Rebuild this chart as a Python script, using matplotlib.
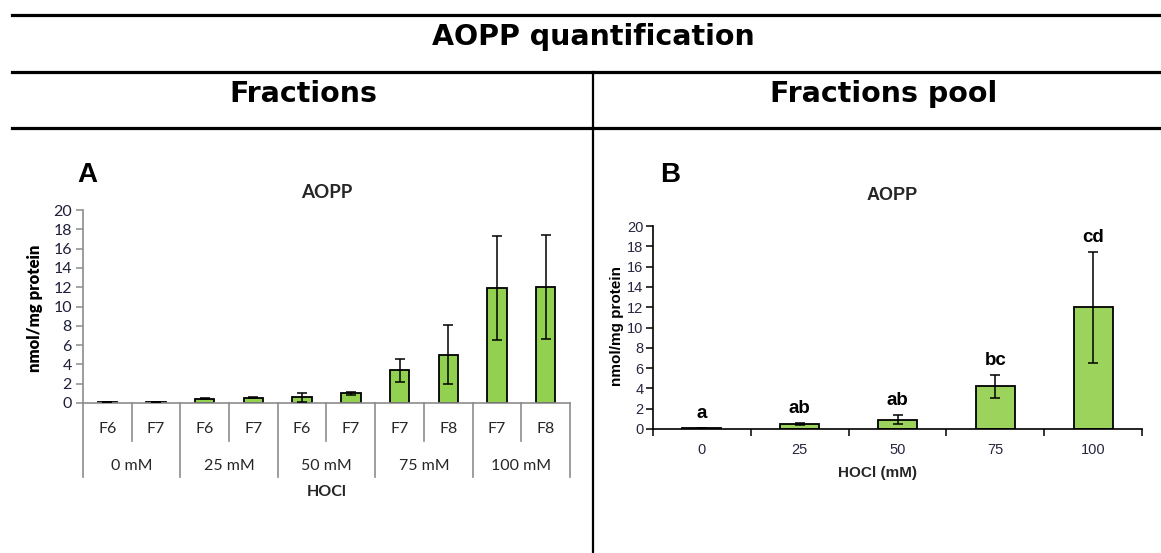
import matplotlib
matplotlib.use("Agg")
import matplotlib.pyplot as plt
from matplotlib.lines import Line2D
import numpy as np

# ---------------- data ----------------
A_groups = ['0 mM', '25 mM', '50 mM', '75 mM', '100 mM']
A_fractions = ['F6', 'F7', 'F6', 'F7', 'F6', 'F7', 'F7', 'F8', 'F7', 'F8']
A_values = [0.1, 0.1, 0.42, 0.55, 0.6, 1.0, 3.4, 5.0, 11.9, 12.0]
A_errors = [0.02, 0.02, 0.05, 0.07, 0.45, 0.12, 1.2, 3.05, 5.4, 5.4]

B_doses = ['0', '25', '50', '75', '100']
B_values = [0.1, 0.52, 0.92, 4.2, 12.0]
B_errors = [0.03, 0.1, 0.42, 1.12, 5.45]
B_letters = ['a', 'ab', 'ab', 'bc', 'cd']

y_ticks = [0, 2, 4, 6, 8, 10, 12, 14, 16, 18, 20]

W, H = 1161, 553
fig = plt.figure(figsize=(W / 100, H / 100), dpi=100)

def fx(px):
    return px / W

def fy(py):
    return 1 - py / H

# ---------------- header table ----------------
for y in (15, 72, 128):
    fig.add_artist(Line2D([fx(12), 1.0], [fy(y), fy(y)], color='black', lw=2.3,
                          transform=fig.transFigure))
fig.add_artist(Line2D([fx(593), fx(593)], [fy(72), 0.0], color='black', lw=1.6,
                      transform=fig.transFigure))

hdr_font = dict(family='DejaVu Sans', weight='bold', fontsize=20.5, color='black')
fig.text(fx(593), fy(45), 'AOPP quantification', ha='center', va='baseline', **hdr_font)
fig.text(fx(303), fy(102), 'Fractions', ha='center', va='baseline', **hdr_font)
fig.text(fx(884), fy(102), 'Fractions pool', ha='center', va='baseline', **hdr_font)

fig.text(fx(87), fy(175), 'A', ha='center', va='center', family='Liberation Sans',
         weight='bold', fontsize=20)
fig.text(fx(670), fy(175), 'B', ha='center', va='center', family='Liberation Sans',
         weight='bold', fontsize=20)

green = '#92D050'
gray = '#8C8C8C'

# ---------------- panel A ----------------
axA = fig.add_axes([fx(83), fy(403), fx(570 - 83), (403 - 210) / H])
xa = np.arange(len(A_values))
axA.bar(xa, A_values, width=0.4, color=green, edgecolor='black', linewidth=1.3, zorder=2)
axA.errorbar(xa, A_values, yerr=A_errors, fmt='none', ecolor='black', elinewidth=1.1,
             capsize=3.6, capthick=1.1, zorder=3)
axA.set_xlim(-0.5, len(A_values) - 0.5)
axA.set_ylim(0, 20)
axA.set_yticks(y_ticks)
axA.set_xticks([])
for s in ('top', 'right'):
    axA.spines[s].set_visible(False)
axA.spines['left'].set_color(gray)
axA.spines['bottom'].set_color(gray)
axA.spines['left'].set_linewidth(1.2)
axA.spines['bottom'].set_linewidth(1.2)
axA.tick_params(axis='y', direction='out', length=5, width=1.1, color=gray,
                labelsize=11.5, labelcolor='#1F1F3A', pad=3)
for lab in axA.get_yticklabels():
    lab.set_family('Lato')

trA = axA.get_xaxis_transform()
hA = 403 - 210
def ay(py):
    return (403 - py) / hA

for k in range(len(A_values) + 1):
    bottom = ay(477) if k % 2 == 0 else ay(441)
    axA.plot([k - 0.5, k - 0.5], [0, bottom], color=gray, lw=1.2, transform=trA,
             clip_on=False)
for i, lab in enumerate(A_fractions):
    axA.text(i, ay(429), lab, transform=trA, ha='center', va='center',
             family='Lato', fontsize=11.5, color='#262626')
for g, lab in enumerate(A_groups):
    axA.text(2 * g + 0.5, ay(466), lab, transform=trA, ha='center', va='center',
             family='Lato', fontsize=11.5, color='#262626')
axA.text(4.5, ay(492), 'HOCl', transform=trA, ha='center', va='center',
         family='Lato', weight='bold', fontsize=11.5, color='#262626')
axA.text(4.5, ay(192), 'AOPP', transform=trA, ha='center', va='center',
         family='Lato', weight='bold', fontsize=13.5, color='#262626')
fig.text(fx(35), fy(308), 'nmol/mg protein', rotation=90, ha='center', va='center',
         family='Lato', weight='heavy', fontsize=12, color='black')

# ---------------- panel B ----------------
axB = fig.add_axes([fx(653), fy(429), fx(1142 - 653), (429 - 226) / H])
xb = np.arange(len(B_values))
axB.bar(xb, B_values, width=0.4, color='#9BD35C', edgecolor='black', linewidth=1.3, zorder=2)
axB.errorbar(xb, B_values, yerr=B_errors, fmt='none', ecolor='black', elinewidth=1.1,
             capsize=3.6, capthick=1.1, zorder=3)
axB.set_xlim(-0.5, len(B_values) - 0.5)
axB.set_ylim(0, 20)
axB.set_yticks(y_ticks)
axB.set_xticks(np.arange(-0.5, len(B_values), 1.0))
axB.set_xticks(xb, minor=True)
axB.set_xticklabels([''] * (len(B_values) + 1))
axB.set_xticklabels(B_doses, minor=True)
for s in ('top', 'right'):
    axB.spines[s].set_visible(False)
axB.spines['left'].set_linewidth(1.2)
axB.spines['bottom'].set_linewidth(1.2)
axB.tick_params(axis='y', direction='out', length=5, width=1.1, labelsize=10.5,
                labelcolor='#262640', pad=2)
axB.tick_params(axis='x', which='major', direction='out', length=5, width=1.1)
axB.tick_params(axis='x', which='minor', length=0, labelsize=10.5, pad=10,
                labelcolor='#262640')
for lab in axB.get_yticklabels() + axB.get_xticklabels(minor=True):
    lab.set_family('Liberation Sans')

for i, (v, e, let) in enumerate(zip(B_values, B_errors, B_letters)):
    axB.text(i, v + e + 1.0, let, ha='center', va='baseline', family='Liberation Sans',
             weight='bold', fontsize=13.5, color='black')

trB = axB.get_xaxis_transform()
hB = 429 - 226
def by(py):
    return (429 - py) / hB
axB.text(1.8, by(473), 'HOCl (mM)', transform=trB, ha='center', va='center',
         family='Liberation Sans', weight='bold', fontsize=11, color='#262626')
axB.text(1.95, by(195), 'AOPP', transform=trB, ha='center', va='center',
         family='Liberation Sans', weight='bold', fontsize=13, color='#262626')
fig.text(fx(617), fy(326), 'nmol/mg protein', rotation=90, ha='center', va='center',
         family='Liberation Sans', weight='bold', fontsize=11, color='black')

fig.savefig('out.png', dpi=100)
